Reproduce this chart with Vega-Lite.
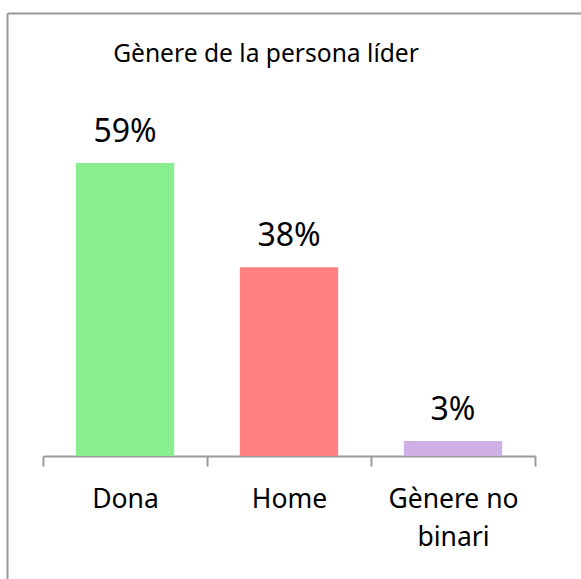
{
  "$schema": "https://vega.github.io/schema/vega-lite/v6.json",
  "width": 574,
  "height": 566,
  "autosize": {"type": "none"},
  "padding": {"left": 7, "top": 13, "right": 0, "bottom": 0},
  "background": "white",
  "config": {
    "view": {"stroke": null},
    "font": "Noto Sans"
  },
  "title": {
    "text": "Gènere de la persona líder",
    "anchor": "middle",
    "frame": "group",
    "orient": "top",
    "baseline": "alphabetic",
    "offset": -74,
    "dx": -28,
    "fontSize": 24.6,
    "fontWeight": "normal",
    "font": "Noto Sans",
    "color": "black"
  },
  "data": {
    "values": [
      {"genere": "Dona", "valor": 0.59},
      {"genere": "Home", "valor": 0.38},
      {"genere": "Gènere no binari", "valor": 0.03}
    ]
  },
  "resolve": {"scale": {"x": "independent"}, "axis": {"x": "independent"}},
  "encoding": {
    "y": {
      "field": "valor",
      "type": "quantitative",
      "scale": {"domain": [-0.2477, 0.892], "range": [566, 0], "nice": false, "zero": false},
      "axis": {
        "orient": "left",
        "title": null,
        "labels": false,
        "ticks": false,
        "grid": false,
        "domain": true,
        "domainColor": "#9a9a9a",
        "domainWidth": 2
      }
    }
  },
  "layer": [
    {
      "mark": {"type": "bar", "width": {"band": 0.6}},
      "encoding": {
        "x": {
          "field": "genere",
          "type": "nominal",
          "sort": null,
          "scale": {"type": "band", "range": [36, 528], "paddingInner": 0, "paddingOuter": 0},
          "axis": {
            "title": null,
            "orient": "bottom",
            "offset": -123,
            "labelAngle": 0,
            "tickBand": "extent",
            "tickSize": 10,
            "tickColor": "#9a9a9a",
            "tickWidth": 2,
            "domainColor": "#9a9a9a",
            "domainWidth": 2,
            "labelFont": "Noto Sans",
            "labelFontSize": 26.5,
            "labelColor": "black",
            "labelBaseline": "alphabetic",
            "labelPadding": 41,
            "labelLineHeight": 38,
            "labelExpr": "datum.label == 'Gènere no binari' ? ['Gènere no', 'binari'] : datum.label",
            "grid": false
          }
        },
        "y2": {"datum": 0},
        "color": {
          "field": "genere",
          "type": "nominal",
          "scale": {
            "domain": ["Dona", "Home", "Gènere no binari"],
            "range": ["#88EE90", "#FF8080", "#CFB0E6"]
          },
          "legend": null
        }
      }
    },
    {
      "mark": {
        "type": "text",
        "baseline": "alphabetic",
        "dy": -21,
        "fontSize": 32,
        "font": "Noto Sans",
        "color": "black"
      },
      "encoding": {
        "x": {
          "field": "genere",
          "type": "nominal",
          "sort": null,
          "scale": {"type": "band", "range": [0, 574], "paddingInner": 0, "paddingOuter": 0.25, "align": 0.439},
          "axis": {
            "title": null,
            "orient": "top",
            "offset": 0,
            "labels": false,
            "ticks": false,
            "grid": false,
            "domain": true,
            "domainColor": "#9a9a9a",
            "domainWidth": 2
          }
        },
        "text": {"field": "valor", "type": "quantitative", "format": ".0%"}
      }
    }
  ]
}
